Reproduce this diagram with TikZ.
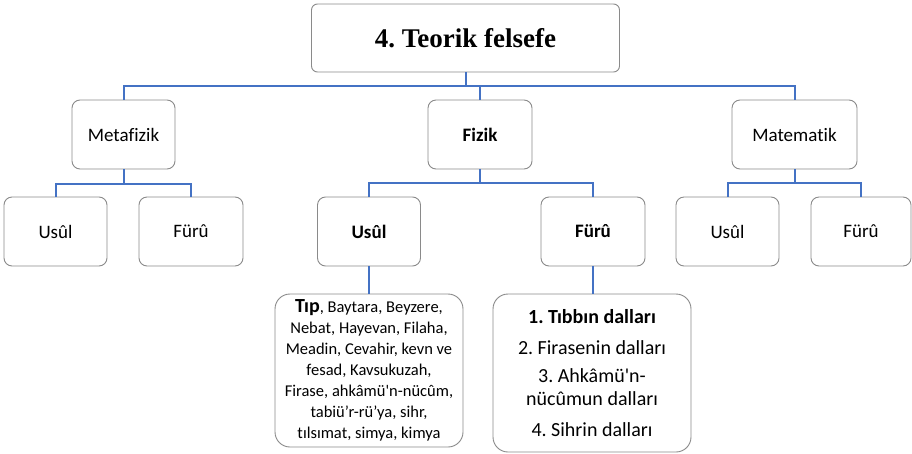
\documentclass[tikz,border=0pt]{standalone}
\usepackage{fontspec}
\setmainfont{Carlito}[Ligatures=NoCommon]
\newfontfamily\titlefont{Liberation Serif}
\definecolor{linkblue}{HTML}{4472C4}
\definecolor{boxgray}{HTML}{8A8A8A}
\frenchspacing
\begin{document}
\begin{tikzpicture}[x=1pt,y=-1pt,
  box/.style={draw=boxgray,line width=0.9pt,rounded corners=8pt,fill=white,inner sep=0pt,align=center,font=\fontsize{19}{23}\selectfont},
  bigbox/.style={box,rounded corners=15pt},
  link/.style={draw=linkblue,line width=2pt}]
\useasboundingbox (0,0) rectangle (912,453);
% nodes
\node[box,rounded corners=6pt,minimum width=308pt,minimum height=68pt] (top) at (465.5,38) {\titlefont\fontsize{27}{30}\selectfont\bfseries 4. Teorik felsefe};
\node[box,minimum width=103pt,minimum height=69pt] (meta) at (123.5,134.5) {Metafizik};
\node[box,minimum width=104pt,minimum height=69pt] (fiz) at (480,134.5) {\bfseries Fizik};
\node[box,minimum width=125pt,minimum height=69pt] (mat) at (794.5,134.5) {Matematik};
\node[box,minimum width=103pt,minimum height=69pt] (u1) at (55.5,231.5) {Usûl};
\node[box,minimum width=104pt,minimum height=69pt] (f1) at (191,231.5) {Fürû};
\node[box,minimum width=103pt,minimum height=69pt] (u2) at (369,231.5) {\bfseries Usûl};
\node[box,minimum width=104pt,minimum height=69pt] (f2) at (593,231.5) {\bfseries Fürû};
\node[box,minimum width=103pt,minimum height=69pt] (u3) at (727.5,231.5) {Usûl};
\node[box,minimum width=100pt,minimum height=69pt] (f3) at (861,231.5) {Fürû};
\node[bigbox,minimum width=188pt,minimum height=153pt,font=\fontsize{16.5}{21}\selectfont] (d1) at (369,370.5)
 {{\fontsize{20}{21}\selectfont\bfseries Tıp}, Baytara, Beyzere,\\Nebat, Hayevan, Filaha,\\Meadin, Cevahir, kevn ve\\fesad, Kavsukuzah,\\Firase, ahkâmü\textquotesingle n-nücûm,\\tabiü’r-rü’ya, sihr,\\tılsımat, simya, kimya};
\node[bigbox,minimum width=198pt,minimum height=158pt,font=\fontsize{20}{23}\selectfont] (d2) at (592,373)
 {\bfseries 1. Tıbbın dalları\\[8pt]2. Firasenin dalları\\[5pt]3. Ahkâmü\textquotesingle n-\\nücûmun dalları\\[8pt]4. Sihrin dalları};
% connectors
\draw[link] (top.south) -- (top.south |- 0,86) coordinate (j0);
\draw[link] (meta.north) |- (j0) -| (mat.north);
\draw[link] (fiz.north) -- (fiz.north |- j0);
\draw[link] (meta.south) -- (meta.south |- 0,184) coordinate (j1);
\draw[link] (u1.north) |- (j1) -| (f1.north);
\draw[link] (fiz.south) -- (fiz.south |- 0,183) coordinate (j2);
\draw[link] (u2.north) |- (j2) -| (f2.north);
\draw[link] (mat.south) -- (mat.south |- 0,183) coordinate (j3);
\draw[link] (u3.north) |- (j3) -| (f3.north);
\draw[link] (u2.south) -- (u2.south |- d1.north);
\draw[link] (f2.south) -- (f2.south |- d2.north);
\end{tikzpicture}
\end{document}
